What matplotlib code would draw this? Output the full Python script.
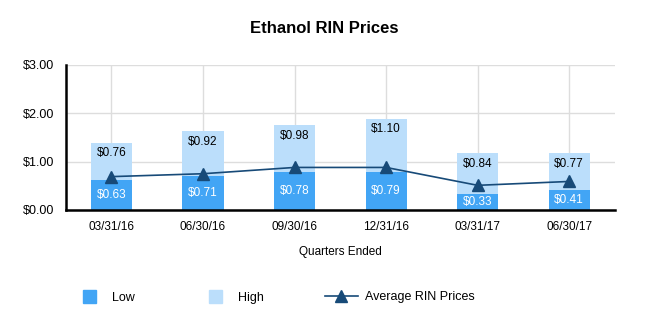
import matplotlib.pyplot as plt
from matplotlib.patches import Patch
from matplotlib.lines import Line2D

# Quarterly ethanol RIN prices
quarters = ['03/31/16', '06/30/16', '09/30/16', '12/31/16', '03/31/17', '06/30/17']
low = [0.63, 0.71, 0.78, 0.79, 0.33, 0.41]
high = [0.76, 0.92, 0.98, 1.10, 0.84, 0.77]
average = [0.69, 0.75, 0.88, 0.88, 0.51, 0.59]

low_color = '#42A5F5'
high_color = '#BBDEFB'
line_color = '#174A78'

plt.rcParams['font.family'] = ['Liberation Sans', 'DejaVu Sans']

fig = plt.figure(figsize=(6.48, 3.33), dpi=100)
ax = fig.add_axes([0.1014, 0.3694, 0.8476, 0.4356])

x = list(range(len(quarters)))
ax.bar(x, low, width=0.45, color=low_color, zorder=2)
ax.bar(x, high, width=0.45, bottom=low, color=high_color, zorder=2)
ax.plot(x, average, color=line_color, linewidth=1.2, marker='^', markersize=8, zorder=3)

# value labels
for i in x:
    ax.text(i, low[i] / 2, f'${low[i]:.2f}', ha='center', va='center', color='white', fontsize=8.5, zorder=4)
    top = low[i] + high[i]
    ax.text(i, top - 0.22, f'${high[i]:.2f}', ha='center', va='center', color='black', fontsize=8.5, zorder=4)

ax.set_xlim(-0.5, len(quarters) - 0.5)
ax.set_ylim(0, 3)
ax.set_yticks([0, 1, 2, 3])
ax.set_yticklabels(['$0.00', '$1.00', '$2.00', '$3.00'], fontsize=9)
ax.set_xticks(x)
ax.set_xticklabels(quarters, fontsize=8.5)
ax.tick_params(length=0, pad=8)
ax.grid(True, color='#DDDDDD', linewidth=1, zorder=0)
ax.set_axisbelow(True)
for s in ['top', 'right']:
    ax.spines[s].set_visible(False)
ax.spines['left'].set_linewidth(1.8)
ax.spines['bottom'].set_linewidth(1.8)
ax.set_xlabel('Quarters Ended', fontsize=8.5, labelpad=9)

fig.text(0.5, 0.915, 'Ethanol RIN Prices', ha='center', va='center', fontsize=12, fontweight='bold')

# legend, one per entry so each handle keeps its own size
common = dict(loc='center left', frameon=False, borderpad=0, borderaxespad=0, fontsize=9)
fig.legend(handles=[Patch(color=low_color, label='Low')], bbox_to_anchor=(83 / 648, 0.108),
           handlelength=1.0, handleheight=1.2, handletextpad=1.3, **common)
fig.legend(handles=[Patch(color=high_color, label='High')], bbox_to_anchor=(209 / 648, 0.108),
           handlelength=1.0, handleheight=1.2, handletextpad=1.3, **common)
fig.legend(handles=[Line2D([], [], color=line_color, linewidth=1.2, marker='^', markersize=8,
                           label='Average RIN Prices')], bbox_to_anchor=(325 / 648, 0.108),
           handlelength=2.6, handletextpad=0.6, **common)

fig.savefig('out.png', dpi=100)
